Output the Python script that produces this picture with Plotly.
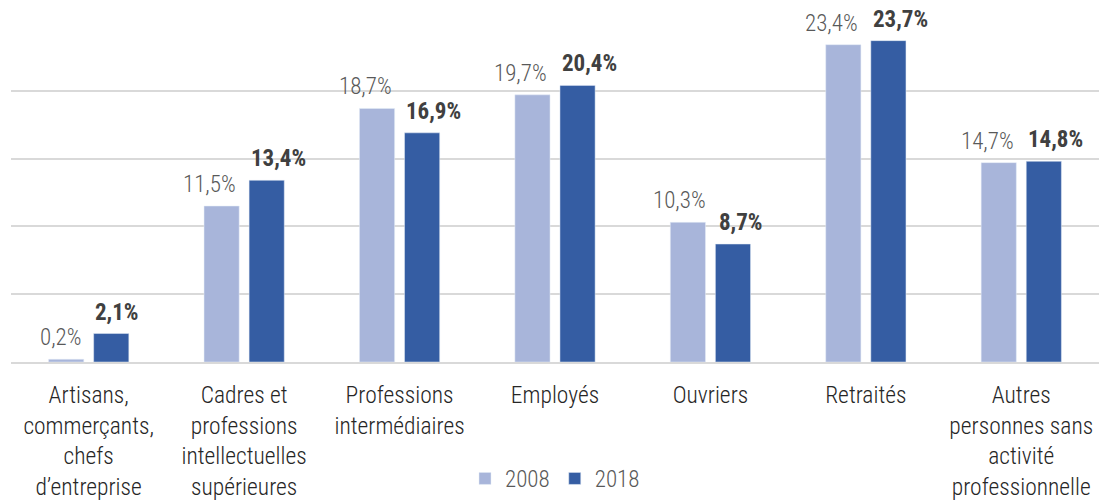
import plotly.graph_objects as go

categories = ["Artisans,<br>commerçants,<br>chefs<br>d’entreprise",
              "Cadres et<br>professions<br>intellectuelles<br>supérieures",
              "Professions<br>intermédiaires",
              "Employés",
              "Ouvriers",
              "Retraités",
              "Autres<br>personnes sans<br>activité<br>professionnelle"]
v2008 = [0.2, 11.5, 18.7, 19.7, 10.3, 23.4, 14.7]
v2018 = [2.1, 13.4, 16.9, 20.4, 8.7, 23.7, 14.8]

def fmt(v):
    return f"{v:.1f}%".replace(".", ",")

FONT = "Roboto Condensed, Roboto, sans-serif"
W, H = 1099, 500
ML, MR, MT, MB = 11, 0, 23, 135
BARGAP, GROUPGAP = 0.42, 0.22
C2008, C2018 = "#A8B5DA", "#355DA3"

fig = go.Figure()
fig.add_trace(go.Bar(x=categories, y=v2008, name="2008", marker_color=C2008))
fig.add_trace(go.Bar(x=categories, y=v2018, name="2018", marker_color=C2018))

# data labels as annotations (nudged apart like the original when they would collide)
cat_w = (W - ML - MR) / len(categories)
slot = (1 - BARGAP) * cat_w / 2
LBL = 23
for c, a, b in zip(categories, v2008, v2018):
    ta, tb = fmt(a), fmt(b)
    wa, wb = 0.5 * LBL * len(ta), 0.55 * LBL * len(tb)
    need = (wa + wb) / 2 + 8
    push = max(0.0, (need - slot) / 2)
    fig.add_annotation(x=c, y=a, text=ta, showarrow=False, yanchor="bottom",
                       xshift=-slot / 2 - push, yshift=6,
                       font=dict(family=FONT, size=LBL, color="#595959", weight=300))
    fig.add_annotation(x=c, y=b, text="<b>" + tb + "</b>", showarrow=False, yanchor="bottom",
                       xshift=slot / 2 + push, yshift=6,
                       font=dict(family=FONT, size=LBL, color="#404040"))

fig.update_layout(
    width=W, height=H,
    margin=dict(l=ML, r=MR, t=MT, b=MB),
    paper_bgcolor="white", plot_bgcolor="white",
    barmode="group", bargap=BARGAP, bargroupgap=GROUPGAP,
    font=dict(family=FONT, size=23, color="#262626"),
    showlegend=True,
    legend=dict(orientation="h", x=0.5, xanchor="center", y=-0.345, yanchor="middle",
                font=dict(size=23, color="#595959", weight=300), itemwidth=30),
    xaxis=dict(showline=True, linecolor="#D9D9D9", linewidth=2, ticks="",
               tickfont=dict(size=23.5, color="#262626", weight=300), ticklabelstandoff=11),
    yaxis=dict(range=[0, 25], dtick=5, showticklabels=False, showgrid=True,
               gridcolor="#D9D9D9", gridwidth=2, zeroline=False, fixedrange=True),
)
fig.write_html("out.html", config={"displayModeBar": False},
               post_script="document.body.style.margin='0';")
